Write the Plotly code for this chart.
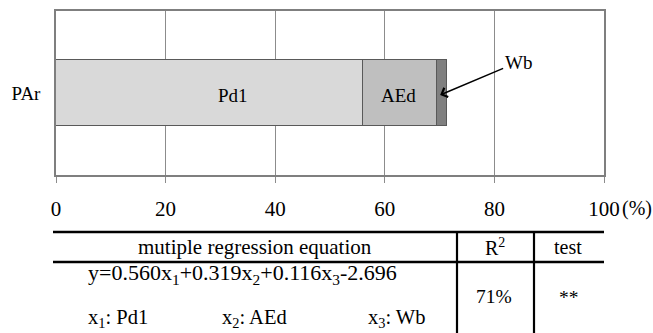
import plotly.graph_objects as go

# ---------------- data ----------------
categories = ["PAr"]
segment_names = ["Pd1", "AEd", "Wb"]
pd1_values = [56.1]
aed_values = [13.4]
wb_values = [1.8]
segment_colors = ["#d9d9d9", "#bfbfbf", "#808080"]
x_tick_values = [0, 20, 40, 60, 80, 100]
x_tick_labels = ["0", "20", "40", "60", "80", "100"]

table_header = ["mutiple regression equation", "R<sup>2</sup>", "test"]
equation_text = "y=0.560x<sub>1</sub>+0.319x<sub>2</sub>+0.116x<sub>3</sub>-2.696"
variable_labels = ["x<sub>1</sub>: Pd1", "x<sub>2</sub>: AEd", "x<sub>3</sub>: Wb"]
r2_text = "71%"
test_text = "**"

# ---------------- layout helpers ----------------
W, H = 653, 333
L, R, T, B = 56, 604, 11, 175  # plot area in pixels
FONT = "'Liberation Serif', 'Times New Roman', 'DejaVu Serif', serif"
FS = 19


def px(xp):
    return (xp - L) / (R - L)


def py(yp):
    return (B - yp) / (B - T)


fig = go.Figure()
for name, vals, col in zip(segment_names, [pd1_values, aed_values, wb_values], segment_colors):
    fig.add_trace(go.Bar(
        y=categories, x=vals, name=name, orientation="h",
        marker=dict(color=col, line=dict(color="#595959", width=1)),
        width=0.4, showlegend=False, hoverinfo="x+name",
    ))

annotations = []


def font(size):
    return dict(family=FONT, size=size, color="black")


# segment labels
annotations.append(dict(x=32.3, y=0, xref="x", yref="y", text="Pd1", showarrow=False,
                        xanchor="center", yanchor="middle", yshift=-2, font=font(FS)))
annotations.append(dict(x=62.5, y=0, xref="x", yref="y", text="AEd", showarrow=False,
                        xanchor="center", yanchor="middle", yshift=-2, font=font(FS)))
# Wb arrow
annotations.append(dict(x=pd1_values[0] + aed_values[0] + 0.6, y=0, xref="x", yref="y",
                        text="Wb", showarrow=True, arrowhead=4, arrowsize=1.3, arrowwidth=1.5,
                        arrowcolor="black", ax=78, ay=-33, yshift=-2,
                        font=font(FS)))
# (%) unit
annotations.append(dict(x=px(636.5), y=py(208), xref="paper", yref="paper", text="(%)",
                        xanchor="center", yanchor="middle",
                        showarrow=False, font=font(20)))


def tt(text, xp, yp, size):
    annotations.append(dict(x=px(xp), y=py(yp), xref="paper", yref="paper", text=text,
                            xanchor="center", yanchor="middle",
                            showarrow=False, font=font(size)))


tt(table_header[0], 255, 247, 21)
tt(table_header[1], 495, 247, 20)
tt(table_header[2], 568, 247, 20)
tt(equation_text, 242, 274, 22)
tt(variable_labels[0], 118, 318, 20.5)
tt(variable_labels[1], 254, 318, 20.5)
tt(variable_labels[2], 396, 318, 20.5)
tt(r2_text, 494, 296, 19.5)
tt(test_text, 569, 297, 19.5)

shapes = []


def hline(x0, x1, yp, w=2.5):
    shapes.append(dict(type="line", xref="paper", yref="paper", x0=px(x0), x1=px(x1),
                       y0=py(yp), y1=py(yp), line=dict(color="black", width=w)))


def vline(xp, y0, y1, w=2.2):
    shapes.append(dict(type="line", xref="paper", yref="paper", x0=px(xp), x1=px(xp),
                       y0=py(y0), y1=py(y1), line=dict(color="black", width=w)))


hline(53, 604, 232)
hline(53, 604, 262)
vline(457, 232, 340)
vline(534, 232, 340)

fig.update_layout(
    width=W, height=H,
    margin=dict(l=L, r=W - R, t=T, b=H - B, pad=0),
    paper_bgcolor="white", plot_bgcolor="white",
    barmode="stack", bargap=0,
    font=dict(family=FONT, size=FS, color="black"),
    annotations=annotations, shapes=shapes,
    xaxis=dict(range=[0, 100], tickvals=x_tick_values, ticktext=x_tick_labels,
               showgrid=True, gridcolor="#8c8c8c", gridwidth=1,
               showline=True, linecolor="#7f7f7f", linewidth=1.5, mirror=True,
               ticks="outside", ticklen=6, tickcolor="#8c8c8c", tickwidth=1,
               ticklabelstandoff=8, zeroline=False, fixedrange=True, automargin=False,
               tickfont=font(21)),
    yaxis=dict(range=[-0.5, 0.5], showgrid=False, zeroline=False,
               showline=True, linecolor="#7f7f7f", linewidth=1.5, mirror=True,
               ticks="", ticklabelstandoff=10, fixedrange=True, automargin=False,
               tickfont=font(FS)),
)

fig.write_html("out.html", config={"displayModeBar": False},
               post_script="document.body.style.margin='0';")
